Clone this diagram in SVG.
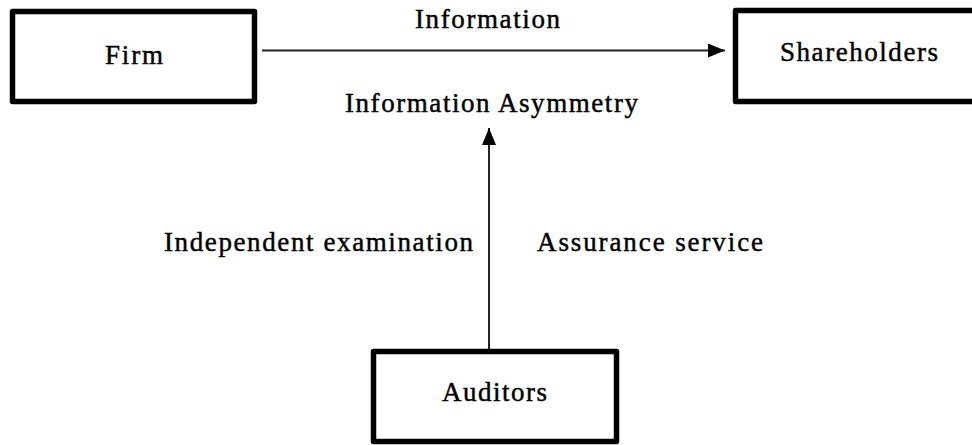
<svg xmlns="http://www.w3.org/2000/svg" width="972" height="445" viewBox="0 0 972 445">
<style>
.box{fill:#fff;stroke:#000;stroke-width:5.5;stroke-linejoin:round}
.t{font-family:"Liberation Serif","Times New Roman",serif;font-size:27px;fill:#000;stroke:#000;stroke-width:0.45}
.edge{stroke:#222;stroke-width:2;fill:none}
</style>
<defs>
<marker id="ah" markerUnits="userSpaceOnUse" markerWidth="17" markerHeight="14" refX="17" refY="7" orient="auto">
<path d="M0,0 L17,7 L0,14 z" fill="#000"/>
</marker>
</defs>
<rect width="972" height="445" fill="#fff"/>
<g id="connectors">
<line class="edge" x1="262" y1="50.5" x2="725" y2="50.5" marker-end="url(#ah)"/>
<line class="edge" x1="489" y1="349" x2="489" y2="128" marker-end="url(#ah)"/>
<text class="t" x="415" y="28" textLength="145">Information</text>
<text class="t" x="345" y="112" textLength="293">Information Asymmetry</text>
<text class="t" x="164" y="251" textLength="309">Independent examination</text>
<text class="t" x="537" y="251" textLength="226">Assurance service</text>
</g>
<g id="firm">
<rect class="box" x="12.5" y="11.5" width="242" height="90"/>
<text class="t" x="105" y="64" textLength="58">Firm</text>
</g>
<g id="shareholders">
<rect class="box" x="735.5" y="10.5" width="245" height="91"/>
<text class="t" x="780" y="61" textLength="158">Shareholders</text>
</g>
<g id="auditors">
<rect class="box" x="373.5" y="351.5" width="243" height="90"/>
<text class="t" x="442" y="401" textLength="105">Auditors</text>
</g>
</svg>
